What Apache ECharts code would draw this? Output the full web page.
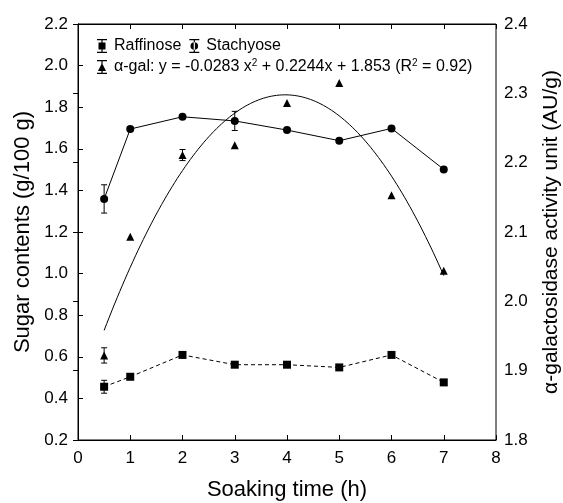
<!DOCTYPE html>
<html>
<head>
<meta charset="utf-8">
<script src="https://cdn.jsdelivr.net/npm/echarts@6/dist/echarts.min.js"></script>
<style>
  html, body { margin: 0; padding: 0; background: #fff; }
  #chart { width: 563px; height: 503px; }
</style>
</head>
<body>
<div id="chart"></div>
<script>
// Soaking time (h)
const times = [0.5, 1, 2, 3, 4, 5, 6, 7];
// Sugar contents (g/100 g)
const raffinose = [0.456, 0.504, 0.609, 0.562, 0.562, 0.549, 0.609, 0.477];
const stachyose = [1.359, 1.695, 1.754, 1.734, 1.690, 1.639, 1.698, 1.501];
// α-galactosidase activity (AU/g)
const alphaGal = [1.922, 2.093, 2.211, 2.225, 2.286, 2.315, 2.153, 2.044];
// standard deviations (0 = bar hidden behind the marker)
const raffinoseSd = [0.031, 0, 0, 0, 0, 0, 0, 0];
const stachyoseSd = [0.068, 0, 0, 0.046, 0, 0, 0, 0];
const alphaGalSd = [0.011, 0, 0.008, 0, 0, 0, 0, 0];
// quadratic fit of α-gal: [a, b, c] for y = a x^2 + b x + c
const fitCoef = [-0.0283, 0.2244, 1.853];
const fitR2 = 0.92;
const fitRange = [0.5, 7];

const FONT = 'Liberation Sans, Arial, sans-serif';
const INK = '#000';

function pairs(ys) { return times.map((t, i) => [t, ys[i]]); }

function errRows(ys, sd) {
  const rows = [];
  times.forEach((t, i) => { if (sd[i] > 0) rows.push([t, ys[i] - sd[i], ys[i] + sd[i]]); });
  return rows;
}

function fitCurve() {
  const pts = [];
  const steps = 130;
  for (let k = 0; k <= steps; k++) {
    const x = fitRange[0] + (fitRange[1] - fitRange[0]) * k / steps;
    pts.push([x, fitCoef[0] * x * x + fitCoef[1] * x + fitCoef[2]]);
  }
  return pts;
}

function errorBarSeries(name, rows, yAxisIndex) {
  return {
    name: name + ' SD',
    type: 'custom',
    yAxisIndex: yAxisIndex,
    data: rows,
    encode: { x: 0, y: [1, 2] },
    silent: true,
    z: 3,
    renderItem: function (params, api) {
      const lo = api.coord([api.value(0), api.value(1)]);
      const hi = api.coord([api.value(0), api.value(2)]);
      const w = 3;
      const st = { stroke: INK, lineWidth: 1 };
      return {
        type: 'group',
        children: [
          { type: 'line', shape: { x1: lo[0], y1: lo[1], x2: hi[0], y2: hi[1] }, style: st },
          { type: 'line', shape: { x1: lo[0] - w, y1: lo[1], x2: lo[0] + w, y2: lo[1] }, style: st },
          { type: 'line', shape: { x1: hi[0] - w, y1: hi[1], x2: hi[0] + w, y2: hi[1] }, style: st }
        ]
      };
    }
  };
}

// legend icons: marker with a capped error bar (filled shapes only)
const barPart = 'M0,0h10v1.2h-10z M4.4,0h1.2v14h-1.2z M0,12.8h10v1.2h-10z ';
const iconSquare = 'path://' + barPart + 'M1.5,3.5h7v7h-7z';
const iconCircle = 'path://' + barPart + 'M5,3.2a3.8,3.8 0 1,0 0.01,0z';
const iconTriangle = 'path://' + barPart + 'M5,3l4,8h-8z';

function fmt(v) { return (v < 0 ? '-' : '') + Math.abs(v); }
const fitLabel = 'α-gal: y = ' + fmt(fitCoef[0]) + ' x{sup|2} + ' + fitCoef[1] + 'x + ' +
  fitCoef[2] + ' (R{sup|2} = ' + fitR2.toFixed(2) + ')';

const axisLabelStyle = { color: INK, fontSize: 17, fontFamily: FONT };
const leftNameStyle = { color: INK, fontSize: 22, fontFamily: FONT };
const rightNameStyle = { color: INK, fontSize: 21, fontFamily: FONT };
const xNameStyle = { color: INK, fontSize: 22, fontFamily: FONT };

const chart = echarts.init(document.getElementById('chart'), null, { renderer: 'canvas' });
chart.setOption({
  animation: false,
  backgroundColor: '#fff',
  grid: {
    left: 78, right: 67, top: 24, bottom: 63,
    outerBoundsMode: 'none', containLabel: false,
    show: true, borderColor: INK, borderWidth: 1
  },
  legend: [
    {
      data: [{ name: 'Raffinose', icon: iconSquare }, { name: 'Stachyose', icon: iconCircle }],
      left: 92, top: 33, itemWidth: 10, itemHeight: 14, itemGap: 8,
      textStyle: { color: INK, fontSize: 16, fontFamily: FONT, padding: [0, 0, 0, 2] },
      selectedMode: false
    },
    {
      data: [{ name: 'α-gal', icon: iconTriangle }],
      left: 92, top: 53, itemWidth: 10, itemHeight: 14,
      formatter: function () { return fitLabel; },
      textStyle: {
        color: INK, fontSize: 16, fontFamily: FONT, padding: [0, 0, 0, 2],
        rich: { sup: { fontSize: 10, fontFamily: FONT, color: INK, padding: [0, 0, 8, 0] } }
      },
      selectedMode: false
    }
  ],
  xAxis: [
    {
      type: 'value', min: 0, max: 8, interval: 1,
      name: 'Soaking time (h)', nameLocation: 'middle', nameGap: 39, nameTextStyle: xNameStyle,
      axisLine: { lineStyle: { color: INK, width: 1 } },
      axisTick: { inside: true, length: 5, lineStyle: { color: INK } },
      axisLabel: Object.assign({ margin: 10 }, axisLabelStyle),
      splitLine: { show: false }
    },
    {
      type: 'value', min: 0, max: 8, interval: 1, position: 'top',
      axisLine: { lineStyle: { color: INK, width: 1 } },
      axisTick: { inside: true, length: 5, lineStyle: { color: INK } },
      axisLabel: { show: false },
      splitLine: { show: false }
    }
  ],
  yAxis: [
    {
      type: 'value', min: 0.2, max: 2.2, interval: 0.2, position: 'left',
      name: 'Sugar contents (g/100 g)', nameLocation: 'middle', nameGap: 40, nameTextStyle: leftNameStyle,
      axisLine: { show: true, lineStyle: { color: INK, width: 1 } },
      axisTick: { show: true, inside: true, length: 5, lineStyle: { color: INK } },
      axisLabel: Object.assign({ margin: 10, formatter: v => v.toFixed(1) }, axisLabelStyle),
      splitLine: { show: false }
    },
    {
      type: 'value', min: 1.8, max: 2.4, interval: 0.1, position: 'right',
      name: 'α-galactosidase activity unit (AU/g)', nameLocation: 'middle', nameGap: 45,
      nameRotate: 90, nameTextStyle: rightNameStyle,
      axisLine: { show: true, lineStyle: { color: INK, width: 1 } },
      axisTick: { show: true, inside: true, length: 5, lineStyle: { color: INK } },
      axisLabel: Object.assign({ margin: 8, formatter: v => v.toFixed(1) }, axisLabelStyle),
      splitLine: { show: false }
    }
  ],
  series: [
    {
      name: 'Raffinose', type: 'line', yAxisIndex: 0, data: pairs(raffinose),
      symbol: 'rect', symbolSize: 8, showAllSymbol: true,
      itemStyle: { color: INK, opacity: 1 },
      lineStyle: { color: INK, width: 1, type: [4, 3] },
      z: 4
    },
    {
      name: 'Stachyose', type: 'line', yAxisIndex: 0, data: pairs(stachyose),
      symbol: 'circle', symbolSize: 8, showAllSymbol: true,
      itemStyle: { color: INK, opacity: 1 },
      lineStyle: { color: INK, width: 1 },
      z: 4
    },
    {
      name: 'α-gal', type: 'scatter', yAxisIndex: 1, data: pairs(alphaGal),
      symbol: 'triangle', symbolSize: 8,
      itemStyle: { color: INK, opacity: 1 },
      z: 4
    },
    {
      name: 'α-gal fit', type: 'line', yAxisIndex: 1, data: fitCurve(),
      showSymbol: false, symbol: 'none',
      lineStyle: { color: INK, width: 1 },
      z: 2
    },
    errorBarSeries('Raffinose', errRows(raffinose, raffinoseSd), 0),
    errorBarSeries('Stachyose', errRows(stachyose, stachyoseSd), 0),
    errorBarSeries('α-gal', errRows(alphaGal, alphaGalSd), 1)
  ]
});
</script>
</body>
</html>
